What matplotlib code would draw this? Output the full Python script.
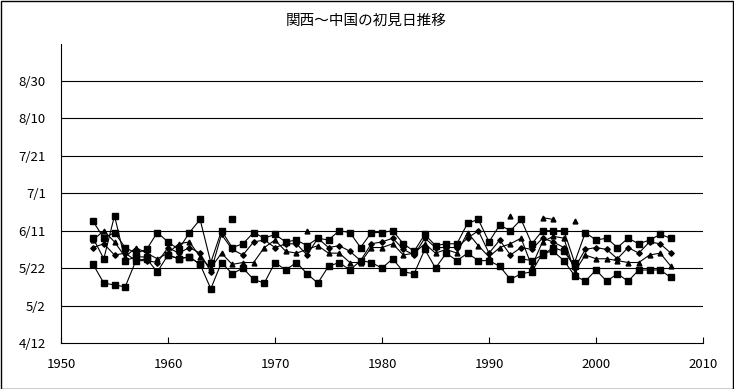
import datetime as dt
import numpy as np
import matplotlib
matplotlib.use("Agg")
import matplotlib.pyplot as plt
from matplotlib.patches import Rectangle

plt.rcParams['font.family'] = ['Noto Sans CJK JP', 'DejaVu Sans']

title = "関西～中国の初見日推移"
years = list(range(1953, 2008))
x_ticks = [1950, 1960, 1970, 1980, 1990, 2000, 2010]
y_tick_labels = ["4/12", "5/2", "5/22", "6/11", "7/1", "7/21", "8/10", "8/30"]

N = None
# first-observation dates as day of year (non-leap), one value per year 1953..2007
s1 = [144, 134, 133, 132, 146, 147, 140, 149, 147, 148, 144, 131, 145, 139, 142, 136, 134, 145, 141, 145,
      139, 134, 143, 145, 141, 146, 145, 142, 147, 140, 139, 152, 142, 150, 146, 150, 146, 146, 143, 136,
      139, 140, 150, 151, 146, 138, 135, 141, 135, 139, 135, 141, 141, 141, 137]
s2 = [167, 158, 161, 153, 150, 152, 161, 156, 152, 161, 168, 145, 162, 153, 155, 161, 158, 160, 156, 157,
      154, 158, 157, 162, 161, 153, 161, 161, 162, 155, 151, 160, 154, 155, 155, 166, 168, 156, 165, 162,
      168, 155, 162, 162, 162, 145, 161, 157, 158, 153, 158, 155, 157, 160, 158]
s3 = [153, 155, 149, 150, 146, 146, 145, 153, 150, 153, 150, 140, 160, 152, 149, 156, 157, 153, 155, 155,
      149, 158, 153, 154, 151, 146, 155, 156, 158, 152, 149, 158, 153, 153, 153, 158, 162, 150, 157, 149,
      153, 152, 158, 156, 153, 142, 152, 153, 152, 147, 153, 150, 156, 155, 150]
s4 = [157, 162, 156, 148, 153, 150, 147, 150, 155, 156, 148, 142, 150, 144, 145, 145, 153, 157, 151, 150,
      152, 154, 150, 150, 145, 145, 153, 153, 155, 149, 150, 155, 150, 152, 150, 161, 154, 148, 153, 155,
      158, 143, 156, 159, 158, 140, 149, 147, 147, 146, 145, 145, 149, 150, 143]
s5 = [158, 147, 170, 146, 148, 148, N, 149, 147, 148, 144, N, N, 168, N, N, N, N, N, N,
      N, N, N, N, N, N, N, N, N, N, N, N, N, N, N, N, N, N, N, N,
      147, 146, 149, 153, 151, 143, N, N, N, N, N, N, N, N, N]
s6 = [N, N, N, N, N, N, N, N, N, N, N, N, N, N, N, N, N, N, N, N,
      162, N, N, N, N, N, N, N, N, N, N, N, N, N, N, N, N, N, N, 170,
      N, N, 169, 168, N, 167, N, N, N, N, N, N, N, N, N]

def doy(label):
    m, d = map(int, label.split("/"))
    return dt.date(2001, m, d).timetuple().tm_yday

y_ticks = [doy(l) for l in y_tick_labels]

def arr(v):
    return np.array([np.nan if a is None else a for a in v], dtype=float)

fig = plt.figure(figsize=(7.34, 3.89), dpi=100)
ax = fig.add_axes([61/734, 1 - 343/389, (703 - 61)/734, (343 - 43.5)/389])

series = [
    (s1, 's', 4.5),
    (s2, 's', 4.5),
    (s3, 'D', 2.8),
    (s4, '^', 3.5),
    (s5, 's', 4.5),
    (s6, '^', 3.5),
]
for vals, mk, ms in series:
    ax.plot(years, arr(vals), color='black', lw=0.8, marker=mk, markersize=ms,
            markerfacecolor='black', markeredgecolor='black', zorder=3)

ax.set_xlim(1950, 2010)
ax.set_ylim(doy("4/12"), doy("4/12") + 160)
ax.set_xticks(x_ticks)
ax.set_yticks(y_ticks)
ax.set_yticklabels(y_tick_labels)
for yt in y_ticks[1:]:
    ax.axhline(yt, color='black', lw=0.8, zorder=1)

for s in ['top', 'right']:
    ax.spines[s].set_visible(False)
for s in ['left', 'bottom']:
    ax.spines[s].set_linewidth(0.8)
    ax.spines[s].set_color('black')
ax.tick_params(axis='x', direction='in', length=4, width=0.8, pad=11, labelsize=9.5)
ax.tick_params(axis='y', length=0, pad=11, labelsize=9.5)

fig.text(366/734, 1 - 21/389, title, ha='center', va='center', fontsize=10.5)
fig.patches.append(Rectangle((0.5/734, 0.5/389), 1 - 1.5/734, 1 - 1.5/389, transform=fig.transFigure,
                             fill=False, edgecolor='black', lw=1.0))

fig.savefig("out.png", dpi=100)
